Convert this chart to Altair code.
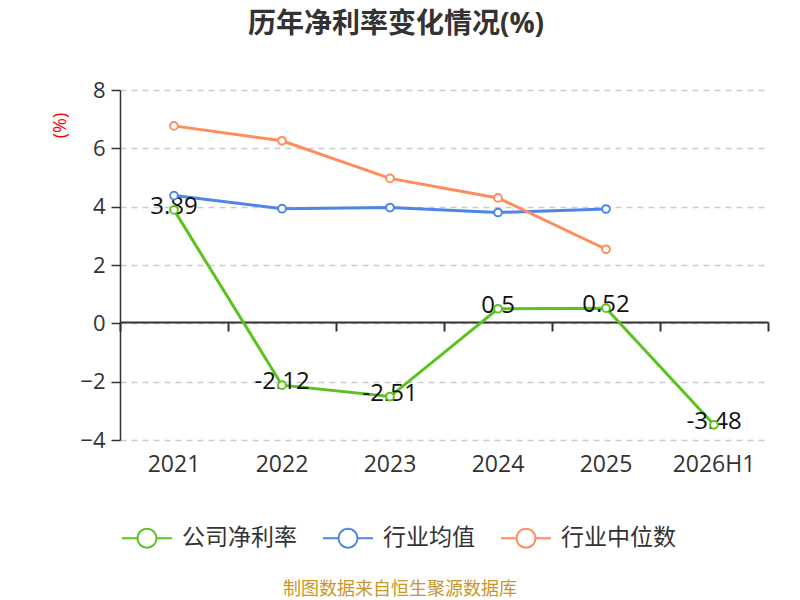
import pandas as pd
import altair as alt

# data
years = ['2021', '2022', '2023', '2024', '2025', '2026H1']
company = [3.89, -2.12, -2.51, 0.5, 0.52, -3.48]
industry_mean = [4.38, 3.93, 3.97, 3.80, 3.92]
industry_median = [6.77, 6.26, 4.97, 4.30, 2.54]
series_names = ['公司净利率', '行业均值', '行业中位数']
series_colors = ['#5bc21f', '#4e86e8', '#ff8c5a']
y_ticks = [-4, -2, 0, 2, 4, 6, 8]
note = '制图数据来自恒生聚源数据库'

rows = []
for name, vals in zip(series_names, [company, industry_mean, industry_median]):
    for yr, v in zip(years, vals):
        rows.append({'year': yr, 'value': v, 'series': name, 'label': str(v)})
df = pd.DataFrame(rows)

FONT = 'Open Sans, Noto Sans CJK SC'

x_scale = alt.Scale(type='band', domain=years, paddingInner=0, paddingOuter=0)
y_enc = alt.Y('value:Q',
              scale=alt.Scale(domain=[-4, 8], nice=False, zero=False),
              axis=alt.Axis(values=y_ticks, title='(%)', titleColor='red',
                            titleFontSize=18, titleFontWeight='normal',
                            titleX=-60, titleY=35, titleAngle=270,
                            titleAlign='center', titleBaseline='middle',
                            labelFontSize=22, labelColor='#333', labelPadding=6,
                            tickSize=9, tickColor='#333', tickWidth=1.5,
                            domainColor='#333', domainWidth=1.5,
                            grid=True, gridDash=[6, 5], gridColor='#cccccc',
                            gridWidth=1.5))

legend_symbol = ('M-1,0L-0.38,0M0.38,0L1,0'
                 'M-0.38,0A0.38,0.38,0,1,1,0.38,0A0.38,0.38,0,1,1,-0.38,0')
color_enc = alt.Color('series:N',
                      scale=alt.Scale(domain=series_names, range=series_colors),
                      legend=alt.Legend(orient='none', legendX=1, legendY=422,
                                        direction='horizontal', title=None,
                                        symbolType=legend_symbol, symbolSize=2500,
                                        symbolStrokeWidth=2, symbolFillColor='white',
                                        labelFontSize=23, labelColor='#333',
                                        labelOffset=9, columnPadding=22,
                                        labelFont=FONT))

base = alt.Chart(df)

lines = base.mark_line(strokeWidth=3).encode(
    x=alt.X('year:N', sort=years, scale=x_scale, bandPosition=0.5,
            axis=alt.Axis(title=None, orient='bottom', domain=False, ticks=False,
                          labelFontSize=23, labelColor='#333', labelPadding=13,
                          labelAngle=0)),
    y=y_enc,
    color=color_enc,
)

points = base.mark_point(fill='white', fillOpacity=1, strokeWidth=2, size=60,
                         opacity=1).encode(
    x=alt.X('year:N', sort=years, scale=x_scale, bandPosition=0.5,
            axis=alt.Axis(title=None, orient='bottom', offset=-118, labels=False,
                          domain=True, domainColor='#333', domainWidth=2,
                          ticks=True, tickBand='extent', tickSize=9,
                          tickColor='#333', tickWidth=2)),
    y=y_enc,
    color=color_enc,
)

labels = base.transform_filter(alt.datum.series == series_names[0]).mark_text(
    fontSize=24, color='#111', baseline='middle', align='center', dy=-3,
    font=FONT).encode(
    x=alt.X('year:N', sort=years, scale=x_scale, bandPosition=0.5, axis=None),
    y=y_enc,
    text='label:N',
)

note_df = pd.DataFrame({'note': [note]})
source = alt.Chart(note_df).mark_text(fontSize=18, color='#c8962a', font=FONT,
                                      align='center', baseline='middle').encode(
    x=alt.value(280), y=alt.value(500), text='note:N')

chart = alt.layer(lines, labels, points, source).resolve_axis(
    x='independent'
).properties(
    width=648,
    height=350,
    autosize=alt.AutoSizeParams(type='none'),
    padding={'left': 112, 'top': 82, 'right': 24, 'bottom': 160},
    title=alt.TitleParams('历年净利率变化情况(%)', fontSize=28, fontWeight='bold',
                          color='#333', anchor='middle', dx=-48, offset=40,
                          font=FONT),
).configure_view(
    strokeWidth=0
).configure_axis(
    labelFont=FONT, titleFont=FONT
)

chart.save('out.html', embed_options={'renderer': 'svg', 'actions': False})
